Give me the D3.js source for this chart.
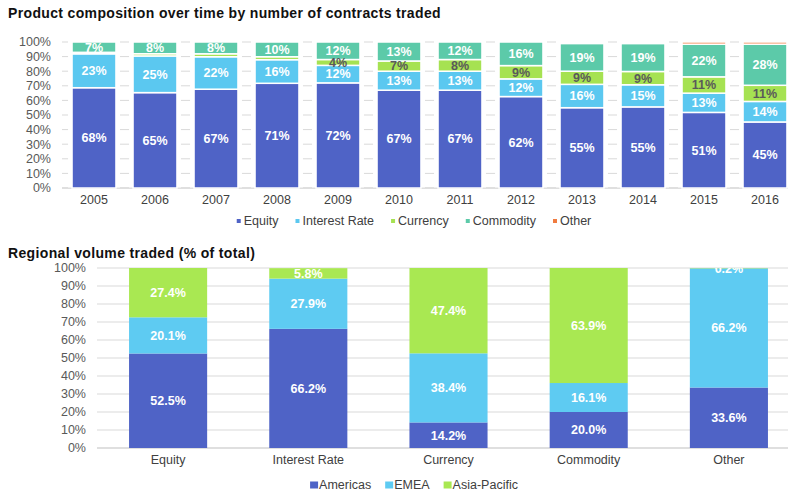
<!DOCTYPE html>
<html>
<head>
<meta charset="utf-8">
<script src="https://cdn.jsdelivr.net/npm/d3@7"></script>
<style>
  body { margin: 0; background: #fff; }
  svg { display: block; font-family: "Liberation Sans", Arial, sans-serif; }
</style>
</head>
<body>
<div id="chart"></div>
<script>
// top chart data: product mix by year (% of contracts)
var years = ["2005", "2006", "2007", "2008", "2009", "2010", "2011", "2012", "2013", "2014", "2015", "2016"];
var equity = [68, 65, 67, 71, 72, 67, 67, 62, 55, 55, 51, 45];
var interestRate = [23, 25, 22, 16, 12, 13, 13, 12, 16, 15, 13, 14];
var currency = [1, 1.5, 2, 2, 4, 7, 8, 9, 9, 9, 11, 11];
var commodity = [7, 8, 8, 10, 12, 13, 12, 16, 19, 19, 22, 28];
var other = [0, 0, 0, 0, 0, 0, 0, 0, 1, 1, 1.5, 1.5];
var productNames = ["Equity", "Interest Rate", "Currency", "Commodity", "Other"];
var productColors = ["#4f63c6", "#5bc8f0", "#a6e252", "#5ccaa9", "#f07b3f"];

// bottom chart data: regional split per product
var products = ["Equity", "Interest Rate", "Currency", "Commodity", "Other"];
var americas = [52.5, 66.2, 14.2, 20.0, 33.6];
var emea = [20.1, 27.9, 38.4, 16.1, 66.2];
var asiaPacific = [27.4, 5.8, 47.4, 63.9, 0.2];
var regionNames = ["Americas", "EMEA", "Asia-Pacific"];
var regionColors = ["#4f63c6", "#5ecbf2", "#a9e852"];

var width = 788, height = 492;
var svg = d3.select("#chart").append("svg")
  .attr("width", width)
  .attr("height", height);

var pct = d3.format(".0%");

// ---------- top chart ----------
var topRows = years.map(function(y, i) {
  return { year: y, "Equity": equity[i], "Interest Rate": interestRate[i],
    "Currency": currency[i], "Commodity": commodity[i], "Other": other[i] };
});
var topStack = d3.stack().keys(productNames).offset(d3.stackOffsetExpand)(topRows);

var x1 = d3.scaleBand().domain(years).range([63.5, 795.5])
  .paddingInner(0.28).paddingOuter(0.14);
var y1 = d3.scaleLinear().domain([0, 1]).range([188, 42]);

svg.append("text")
  .attr("x", 8).attr("y", 18)
  .attr("font-size", 14).attr("font-weight", "bold").attr("fill", "#111")
  .attr("letter-spacing", 0.35)
  .text("Product composition over time by number of contracts traded");

var g1 = svg.append("g");
g1.selectAll("line.grid")
  .data(y1.ticks(10))
  .enter().append("line")
  .attr("x1", 62).attr("x2", width)
  .attr("y1", function(d) { return y1(d); })
  .attr("y2", function(d) { return y1(d); })
  .attr("stroke", function(d) { return d === 0 ? "#bfbfbf" : "#d9d9d9"; })
  .attr("stroke-width", 1);

g1.selectAll("text.ytick")
  .data(y1.ticks(10))
  .enter().append("text")
  .attr("x", 51).attr("y", function(d) { return y1(d); })
  .attr("dy", "0.35em").attr("text-anchor", "end")
  .attr("font-size", 12.5).attr("fill", "#595959")
  .text(pct);

// white halo behind each bar
g1.selectAll("rect.halo")
  .data(years)
  .enter().append("rect")
  .attr("x", function(d) { return x1(d) - 4; })
  .attr("width", x1.bandwidth() + 8)
  .attr("y", y1(1) - 2)
  .attr("height", y1(0) - y1(1) + 1.5)
  .attr("fill", "#fff");

var layers1 = g1.selectAll("g.layer")
  .data(topStack)
  .enter().append("g")
  .attr("fill", function(d, i) { return productColors[i]; });

layers1.selectAll("rect")
  .data(function(d) { return d; })
  .enter().append("rect")
  .attr("x", function(d) { return x1(d.data.year); })
  .attr("width", x1.bandwidth())
  .attr("y", function(d) { return y1(d[1]); })
  .attr("height", function(d) { return Math.max(0, y1(d[0]) - y1(d[1])); })
  .attr("stroke", "#fff")
  .attr("stroke-width", 1.5);

topStack.forEach(function(layer, li) {
  g1.selectAll(null)
    .data(layer.filter(function(d) { return d.data[layer.key] >= 4; }))
    .enter().append("text")
    .attr("x", function(d) { return x1(d.data.year) + x1.bandwidth() / 2; })
    .attr("y", function(d) { return (y1(d[0]) + y1(d[1])) / 2; })
    .attr("dy", "0.35em").attr("text-anchor", "middle")
    .attr("font-size", 12.5).attr("font-weight", "bold")
    .attr("fill", layer.key === "Currency" ? "#5a5a5a" : "#fff")
    .text(function(d) { return d.data[layer.key] + "%"; });
});

g1.selectAll("text.xtick")
  .data(years)
  .enter().append("text")
  .attr("x", function(d) { return x1(d) + x1.bandwidth() / 2; })
  .attr("y", 200).attr("dy", "0.35em").attr("text-anchor", "middle")
  .attr("font-size", 12.5).attr("fill", "#404040")
  .text(function(d) { return d; });

// top legend
var leg1 = svg.append("g");
var lx = 0;
productNames.forEach(function(name, i) {
  var item = leg1.append("g").attr("transform", "translate(" + lx + ",0)");
  item.append("rect").attr("x", 0).attr("y", -2).attr("width", 4).attr("height", 4)
    .attr("fill", productColors[i]);
  var t = item.append("text").attr("x", 7).attr("y", 0).attr("dy", "0.35em")
    .attr("font-size", 12.5).attr("fill", "#404040").text(name);
  lx += 7 + t.node().getComputedTextLength() + 17;
});
lx -= 17;
leg1.attr("transform", "translate(" + (414 - lx / 2) + ",221)");

// ---------- bottom chart ----------
var botRows = products.map(function(p, i) {
  return { product: p, "Americas": americas[i], "EMEA": emea[i], "Asia-Pacific": asiaPacific[i] };
});
var botStack = d3.stack().keys(regionNames)(botRows);

var x2 = d3.scaleBand().domain(products).range([98, 799])
  .paddingInner(0.443).paddingOuter(0.2215);
var y2 = d3.scaleLinear().domain([0, 100]).range([448, 268]);

svg.append("text")
  .attr("x", 8).attr("y", 258)
  .attr("font-size", 14).attr("font-weight", "bold").attr("fill", "#111")
  .attr("letter-spacing", 0.35)
  .text("Regional volume traded (% of total)");

svg.append("clipPath").attr("id", "plot2")
  .append("rect").attr("x", 0).attr("y", y2(100)).attr("width", width).attr("height", y2(0) - y2(100) + 20);

var g2 = svg.append("g");
g2.selectAll("line.grid")
  .data(y2.ticks(10))
  .enter().append("line")
  .attr("x1", 97).attr("x2", width)
  .attr("y1", function(d) { return y2(d); })
  .attr("y2", function(d) { return y2(d); })
  .attr("stroke", function(d) { return d === 0 ? "#bfbfbf" : "#d9d9d9"; })
  .attr("stroke-width", 1);

g2.selectAll("text.ytick")
  .data(y2.ticks(10))
  .enter().append("text")
  .attr("x", 86).attr("y", function(d) { return y2(d); })
  .attr("dy", "0.35em").attr("text-anchor", "end")
  .attr("font-size", 12.5).attr("fill", "#595959")
  .text(function(d) { return d + "%"; });

var layers2 = g2.selectAll("g.layer")
  .data(botStack)
  .enter().append("g")
  .attr("fill", function(d, i) { return regionColors[i]; });

layers2.selectAll("rect")
  .data(function(d) { return d; })
  .enter().append("rect")
  .attr("x", function(d) { return x2(d.data.product); })
  .attr("width", x2.bandwidth())
  .attr("y", function(d) { return y2(d[1]); })
  .attr("height", function(d) { return y2(d[0]) - y2(d[1]); });

var labels2 = g2.append("g").attr("clip-path", "url(#plot2)");
botStack.forEach(function(layer) {
  labels2.selectAll(null)
    .data(layer)
    .enter().append("text")
    .attr("x", function(d) { return x2(d.data.product) + x2.bandwidth() / 2; })
    .attr("y", function(d) { return (y2(d[0]) + y2(d[1])) / 2; })
    .attr("dy", "0.35em").attr("text-anchor", "middle")
    .attr("font-size", 12.5).attr("font-weight", "bold").attr("fill", "#fff")
    .text(function(d) { return d.data[layer.key].toFixed(1) + "%"; });
});

g2.selectAll("text.xtick")
  .data(products)
  .enter().append("text")
  .attr("x", function(d) { return x2(d) + x2.bandwidth() / 2; })
  .attr("y", 459.5).attr("dy", "0.35em").attr("text-anchor", "middle")
  .attr("font-size", 12.5).attr("fill", "#404040")
  .text(function(d) { return d; });

// bottom legend
var leg2 = svg.append("g");
var lx2 = 0;
regionNames.forEach(function(name, i) {
  var item = leg2.append("g").attr("transform", "translate(" + lx2 + ",0)");
  item.append("rect").attr("x", 0).attr("y", -3.5).attr("width", 8).attr("height", 7)
    .attr("fill", regionColors[i]);
  var t = item.append("text").attr("x", 9).attr("y", 0).attr("dy", "0.35em")
    .attr("font-size", 12.5).attr("fill", "#404040").text(name);
  lx2 += 9 + t.node().getComputedTextLength() + 14;
});
lx2 -= 14;
leg2.attr("transform", "translate(" + (414 - lx2 / 2) + ",485)");
</script>
</body>
</html>
